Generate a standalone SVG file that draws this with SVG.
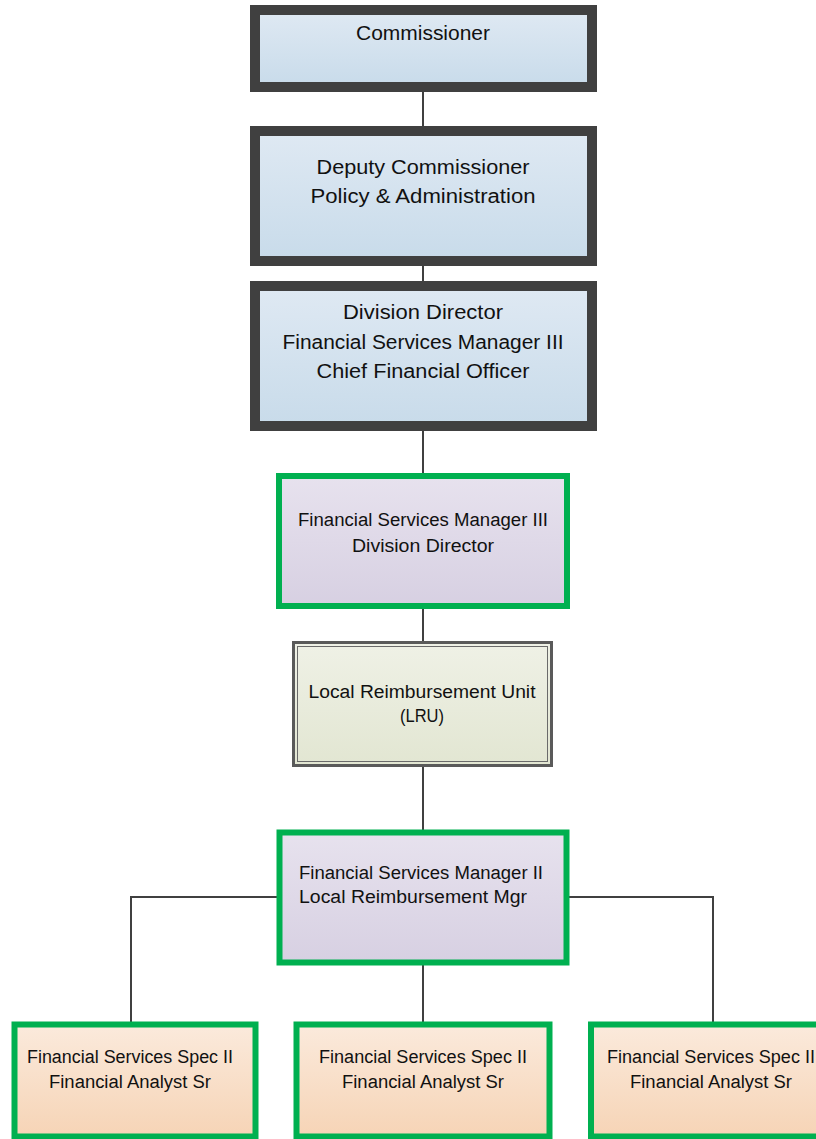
<svg xmlns="http://www.w3.org/2000/svg" width="816" height="1139" viewBox="0 0 816 1139">
<defs>
<linearGradient id="gBlue" x1="0" y1="0" x2="0" y2="1"><stop offset="0" stop-color="#DFE9F3"/><stop offset="1" stop-color="#C8DBEA"/></linearGradient>
<linearGradient id="gPurple" x1="0" y1="0" x2="0" y2="1"><stop offset="0" stop-color="#E7E2EE"/><stop offset="1" stop-color="#D7D0E2"/></linearGradient>
<linearGradient id="gGreen" x1="0" y1="0" x2="0" y2="1"><stop offset="0" stop-color="#EFF1E6"/><stop offset="1" stop-color="#E2E6D2"/></linearGradient>
<linearGradient id="gPeach" x1="0" y1="0" x2="0" y2="1"><stop offset="0" stop-color="#FBEADC"/><stop offset="1" stop-color="#F6D4B6"/></linearGradient>
</defs>
<style>
.dark{stroke:#404040;stroke-width:10;fill:url(#gBlue)}
.grn{stroke:#00B050;stroke-width:6;}
.conn{stroke:#404040;stroke-width:2;fill:none}
text{font-family:"Liberation Sans",Arial,sans-serif;fill:#111;}
.t20{font-size:20px;text-anchor:middle}
.t17{font-size:18px;text-anchor:middle}
.t17l{font-size:18px;text-anchor:start}
</style>
<g id="connectors">
<line class="conn" x1="423" y1="91" x2="423" y2="126"/>
<line class="conn" x1="423" y1="265" x2="423" y2="282"/>
<line class="conn" x1="423" y1="430" x2="423" y2="474"/>
<line class="conn" x1="423" y1="608" x2="423" y2="642"/>
<line class="conn" x1="423" y1="767" x2="423" y2="830"/>
<line class="conn" x1="423" y1="965" x2="423" y2="1023"/>
<polyline class="conn" points="277,897 131,897 131,1023"/>
<polyline class="conn" points="569,897 713,897 713,1023"/>
</g>
<g id="commissioner">
<rect class="dark" x="255" y="10" width="337" height="77"/>
<text class="t20" x="423" y="40" textLength="134" lengthAdjust="spacingAndGlyphs">Commissioner</text>
</g>
<g id="deputy">
<rect class="dark" x="255" y="131" width="337" height="130"/>
<text class="t20" x="423" y="174" textLength="213" lengthAdjust="spacingAndGlyphs">Deputy Commissioner</text>
<text class="t20" x="423" y="203" textLength="225" lengthAdjust="spacingAndGlyphs">Policy &amp; Administration</text>
</g>
<g id="division">
<rect class="dark" x="255" y="286" width="337" height="140"/>
<text class="t20" x="423" y="319" textLength="160" lengthAdjust="spacingAndGlyphs">Division Director</text>
<text class="t20" x="423" y="349" textLength="281" lengthAdjust="spacingAndGlyphs">Financial Services Manager III</text>
<text class="t20" x="423" y="378" textLength="213" lengthAdjust="spacingAndGlyphs">Chief Financial Officer</text>
</g>
<g id="fsm3">
<rect class="grn" x="279" y="476" width="288" height="130" fill="url(#gPurple)"/>
<text class="t17" x="423" y="526" textLength="250" lengthAdjust="spacingAndGlyphs">Financial Services Manager III</text>
<text class="t17" x="423" y="552" textLength="142" lengthAdjust="spacingAndGlyphs">Division Director</text>
</g>
<g id="lru">
<rect x="293.5" y="642.5" width="258" height="123" fill="url(#gGreen)" stroke="#5A5A5A" stroke-width="3"/>
<rect x="297.5" y="646.5" width="250" height="115" fill="none" stroke="#6A6A6A" stroke-width="1"/>
<text class="t17" x="422" y="698" textLength="227" lengthAdjust="spacingAndGlyphs">Local Reimbursement Unit</text>
<text class="t17" x="422" y="722" textLength="44" lengthAdjust="spacingAndGlyphs">(LRU)</text>
</g>
<g id="fsm2">
<rect class="grn" x="279.5" y="832.5" width="287" height="130" fill="url(#gPurple)"/>
<text class="t17l" x="299" y="879" textLength="244" lengthAdjust="spacingAndGlyphs">Financial Services Manager II</text>
<text class="t17l" x="299" y="903" textLength="228" lengthAdjust="spacingAndGlyphs">Local Reimbursement Mgr</text>
</g>
<g id="spec1">
<rect class="grn" x="14.5" y="1024.5" width="241" height="112" fill="url(#gPeach)"/>
<text class="t17" x="130" y="1063" textLength="206" lengthAdjust="spacingAndGlyphs">Financial Services Spec II</text>
<text class="t17" x="130" y="1088" textLength="162" lengthAdjust="spacingAndGlyphs">Financial Analyst Sr</text>
</g>
<g id="spec2">
<rect class="grn" x="296.5" y="1024.5" width="253" height="112" fill="url(#gPeach)"/>
<text class="t17" x="423" y="1063" textLength="208" lengthAdjust="spacingAndGlyphs">Financial Services Spec II</text>
<text class="t17" x="423" y="1088" textLength="162" lengthAdjust="spacingAndGlyphs">Financial Analyst Sr</text>
</g>
<g id="spec3">
<rect class="grn" x="591" y="1024.5" width="240" height="112" fill="url(#gPeach)"/>
<text class="t17" x="711" y="1063" textLength="208" lengthAdjust="spacingAndGlyphs">Financial Services Spec II</text>
<text class="t17" x="711" y="1088" textLength="162" lengthAdjust="spacingAndGlyphs">Financial Analyst Sr</text>
</g>
</svg>
